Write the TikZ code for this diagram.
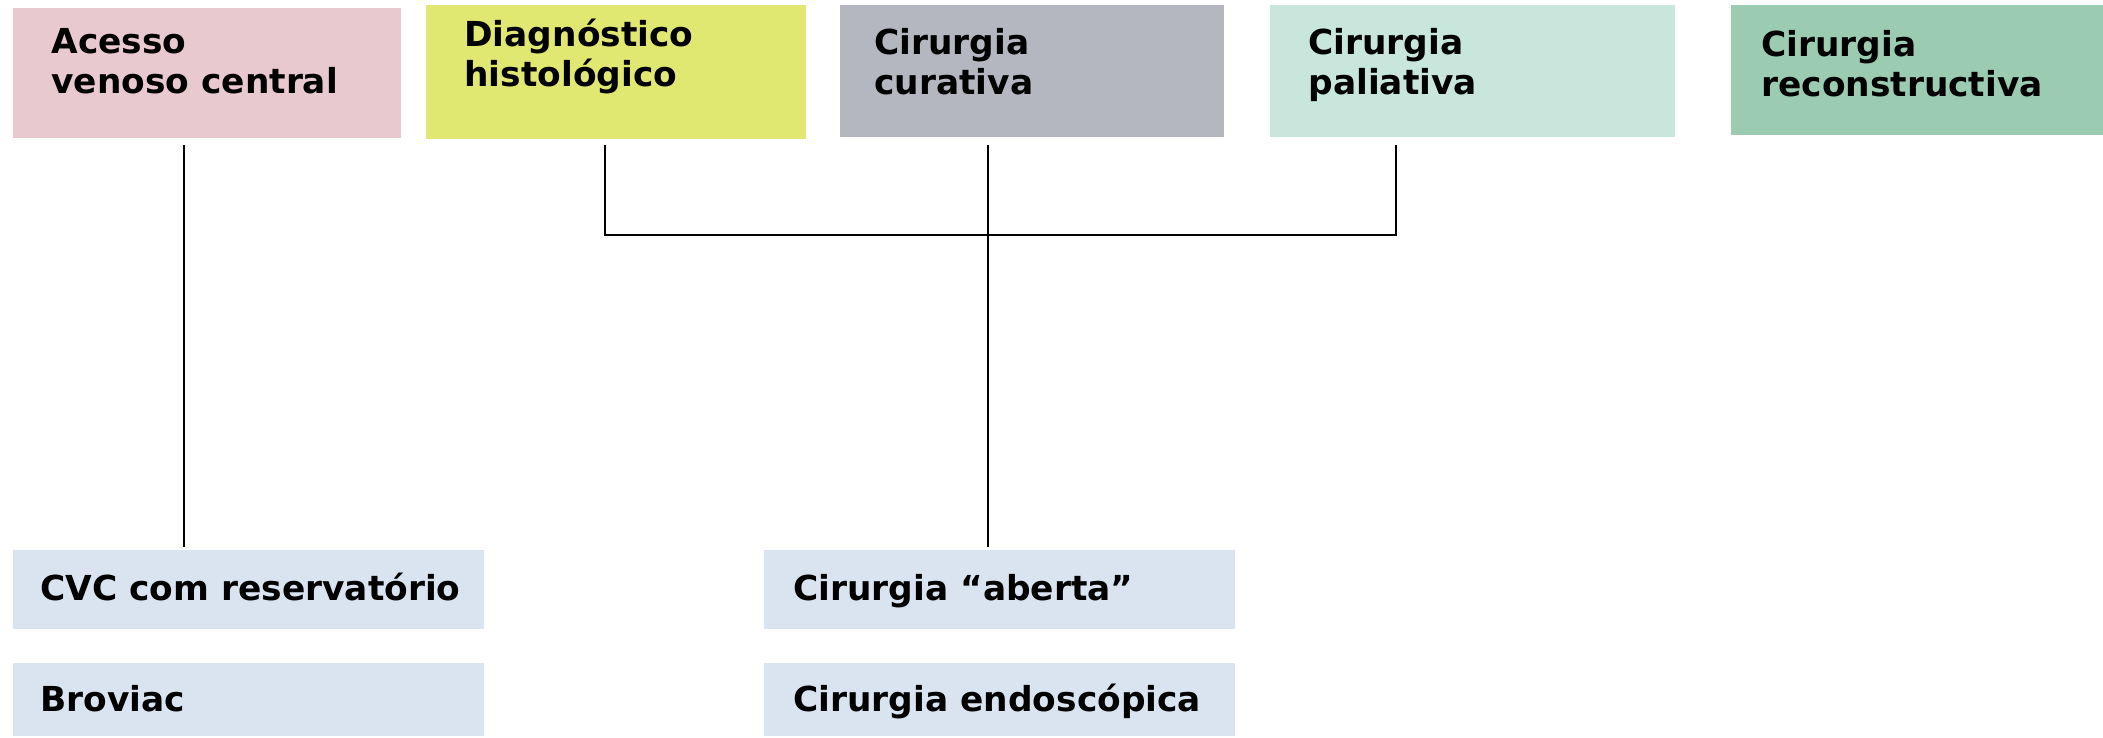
\documentclass[tikz,border=0pt]{standalone}
\usepackage{fontspec}
\setmainfont{DejaVu Sans}
\usetikzlibrary{fit}
\definecolor{pinkc}{RGB}{233,201,208}
\definecolor{yellowc}{RGB}{225,232,114}
\definecolor{grayc}{RGB}{180,183,192}
\definecolor{mintc}{RGB}{200,230,220}
\definecolor{greenc}{RGB}{155,204,178}
\definecolor{bluec}{RGB}{218,228,240}
\newcommand{\mylines}[2]{\vtop{\hbox{#1}\hbox{#2}}}
\begin{document}
\begin{tikzpicture}[x=0.5pt,y=-0.5pt,
  box/.style={draw=none,inner sep=0pt,rectangle},
  lbl/.style={anchor=base west,inner sep=0pt,font=\fontsize{17.2}{20}\selectfont\bfseries},
  conn/.style={line width=0.6pt,black}]
\useasboundingbox (0,0) rectangle (2103,738);
% top boxes
\node[box,fill=pinkc,fit={(13,8) (401,138)}] (acesso) {};
\node[box,fill=yellowc,fit={(426,5) (806,139)}] (diag) {};
\node[box,fill=grayc,fit={(840,5) (1224,137)}] (cur) {};
\node[box,fill=mintc,fit={(1270,5) (1675,137)}] (pal) {};
\node[box,fill=greenc,fit={(1731,5) (2103,135)}] (rec) {};
% bottom boxes
\node[box,fill=bluec,fit={(13,550) (484,629)}] (cvc) {};
\node[box,fill=bluec,fit={(13,663) (484,736)}] (brov) {};
\node[box,fill=bluec,fit={(764,550) (1235,629)}] (aberta) {};
\node[box,fill=bluec,fit={(764,663) (1235,736)}] (endo) {};
% texts
\node[lbl] (tacesso) at (51,54) {\mylines{Acesso}{venoso central}};
\node[lbl] (tdiag) at (464,47) {\mylines{Diagnóstico}{histológico}};
\node[lbl] (tcur) at (874,55) {\mylines{Cirurgia}{curativa}};
\node[lbl] (tpal) at (1308,55) {\mylines{Cirurgia}{paliativa}};
\node[lbl] (trec) at (1761,57) {\mylines{Cirurgia}{reconstructiva}};
\node[lbl] (tcvc) at (40,600) {CVC com reservatório};
\node[lbl] (tbrov) at (40,711) {Broviac};
\node[lbl] (taberta) at (793,600) {Cirurgia “aberta”};
\node[lbl] (tendo) at (793,711) {Cirurgia endoscópica};
% connector columns
\coordinate (c1) at (184,0);
\coordinate (c2) at (605,0);
\coordinate (c3) at (988,0);
\coordinate (c4) at (1396,0);
\coordinate (hb) at (0,235);
\draw[conn] ([yshift=-3.5pt]acesso.south -| c1) -- ([yshift=1.5pt]cvc.north -| c1);
\draw[conn] ([yshift=-3pt]diag.south -| c2) |- (hb -| c4) -- ([yshift=-4pt]pal.south -| c4);
\draw[conn] ([yshift=-4pt]cur.south -| c3) -- ([yshift=1.5pt]aberta.north -| c3);
\end{tikzpicture}
\end{document}
